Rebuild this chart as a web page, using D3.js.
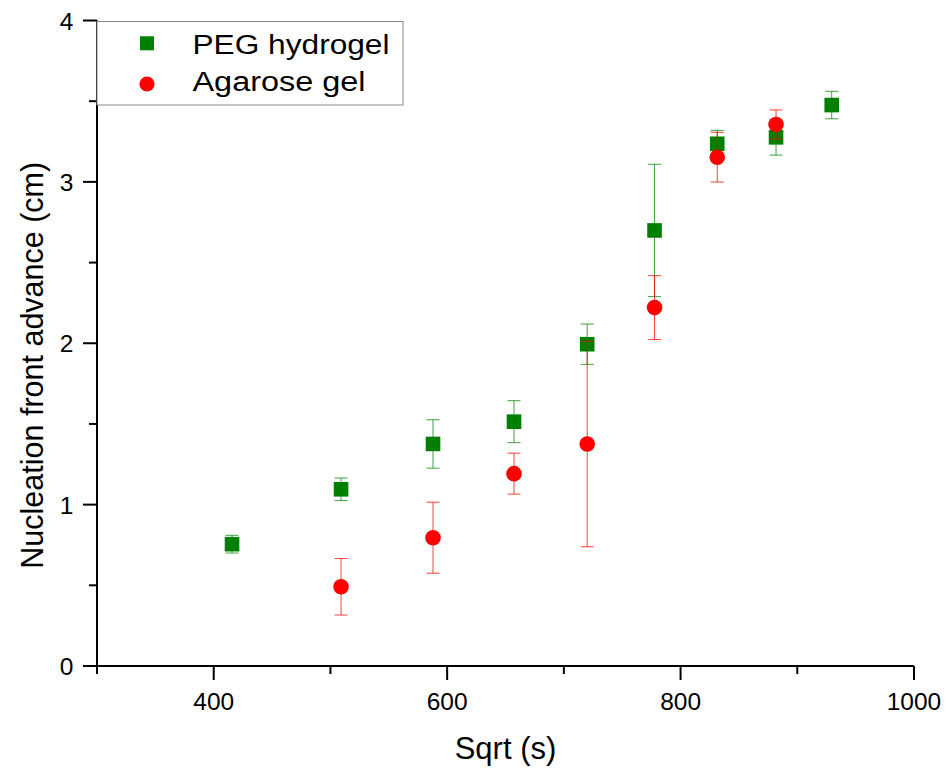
<!DOCTYPE html>
<html>
<head>
<meta charset="utf-8">
<script src="https://cdn.jsdelivr.net/npm/d3@7"></script>
<style>
  html, body { margin: 0; padding: 0; background: #fff; }
  svg { display: block; font-family: "Liberation Sans", Arial, sans-serif; }
</style>
</head>
<body>
<svg id="chart" width="949" height="771"></svg>
<script>
// ---- data ----
const seriesNames = ["PEG hydrogel", "Agarose gel"];
const xPEG   = [415.7, 509.1, 587.9, 657.3, 720.0, 777.7, 831.4, 881.8, 929.5];
const yPEG   = [0.755, 1.095, 1.376, 1.514, 1.994, 2.699, 3.236, 3.276, 3.476];
const errPEG = [0.055, 0.07, 0.15, 0.13, 0.125, 0.41, 0.083, 0.11, 0.085];
const xAga   = [509.1, 587.9, 657.3, 720.0, 777.7, 831.4, 881.8];
const yAga   = [0.491, 0.795, 1.192, 1.376, 2.221, 3.153, 3.356];
const errAga = [0.175, 0.22, 0.127, 0.637, 0.198, 0.154, 0.09];
const xMajorTicks = [400, 600, 800, 1000];
const xMinorTicks = [300, 500, 700, 900];
const yMajorTicks = [0, 1, 2, 3, 4];
const yMinorTicks = [0.5, 1.5, 2.5, 3.5];
const xTitle = "Sqrt (s)";
const yTitle = "Nucleation front advance (cm)";

(function () {
// ---- layout ----
const svg = d3.select("#chart");
const pL = 97, pR = 914, pT = 20.5, pB = 666;
const x = d3.scaleLinear().domain([300, 1000]).range([pL, pR]);
const y = d3.scaleLinear().domain([0, 4]).range([pB, pT]);

const green = "#008000", red = "#ff0000";

// axes
const axisG = svg.append("g").attr("stroke", "#000").attr("stroke-width", 2);
axisG.append("line").attr("x1", pL).attr("x2", pR).attr("y1", pB).attr("y2", pB);
axisG.append("line").attr("x1", pL).attr("x2", pL).attr("y1", pT).attr("y2", pB);
axisG.selectAll(".xmaj").data(xMajorTicks).join("line")
  .attr("x1", d => x(d)).attr("x2", d => x(d)).attr("y1", pB).attr("y2", pB + 14);
axisG.selectAll(".xmin").data(xMinorTicks).join("line")
  .attr("x1", d => x(d)).attr("x2", d => x(d)).attr("y1", pB).attr("y2", pB + 8);
axisG.selectAll(".ymaj").data(yMajorTicks).join("line")
  .attr("y1", d => y(d)).attr("y2", d => y(d)).attr("x1", pL - 14).attr("x2", pL);
axisG.selectAll(".ymin").data(yMinorTicks).join("line")
  .attr("y1", d => y(d)).attr("y2", d => y(d)).attr("x1", pL - 8).attr("x2", pL);

// tick labels
svg.append("g").selectAll("text").data(xMajorTicks).join("text")
  .attr("x", d => x(d)).attr("y", 710).attr("text-anchor", "middle")
  .attr("font-size", 24.5).text(d => d);
svg.append("g").selectAll("text").data(yMajorTicks).join("text")
  .attr("x", 73.5).attr("y", d => y(d) + 9).attr("text-anchor", "end")
  .attr("font-size", 24.5).text(d => d);

// titles
svg.append("text").attr("x", (pL + pR) / 2).attr("y", 759)
  .attr("text-anchor", "middle").attr("font-size", 31).text(xTitle);
svg.append("text").attr("transform", "translate(43," + ((pT + pB) / 2 + 22) + ") rotate(-90)")
  .attr("text-anchor", "middle").attr("font-size", 30.5).text(yTitle);

// error bars + markers
function errorBars(xs, ys, es, color) {
  const g = svg.append("g").attr("stroke", color).attr("stroke-width", 1).attr("stroke-opacity", 0.75);
  const idx = d3.range(xs.length);
  g.selectAll(".v").data(idx).join("line")
    .attr("x1", i => x(xs[i])).attr("x2", i => x(xs[i]))
    .attr("y1", i => y(ys[i] - es[i])).attr("y2", i => y(ys[i] + es[i]));
  g.selectAll(".t").data(idx).join("line")
    .attr("x1", i => x(xs[i]) - 6.5).attr("x2", i => x(xs[i]) + 6.5)
    .attr("y1", i => y(ys[i] + es[i])).attr("y2", i => y(ys[i] + es[i]));
  g.selectAll(".b").data(idx).join("line")
    .attr("x1", i => x(xs[i]) - 6.5).attr("x2", i => x(xs[i]) + 6.5)
    .attr("y1", i => y(ys[i] - es[i])).attr("y2", i => y(ys[i] - es[i]));
}

errorBars(xPEG, yPEG, errPEG, green);
svg.append("g").selectAll("rect").data(d3.range(xPEG.length)).join("rect")
  .attr("x", i => x(xPEG[i]) - 7.3).attr("y", i => y(yPEG[i]) - 7.3)
  .attr("width", 14.6).attr("height", 14.6).attr("fill", green);

errorBars(xAga, yAga, errAga, red);
svg.append("g").selectAll("circle").data(d3.range(xAga.length)).join("circle")
  .attr("cx", i => x(xAga[i])).attr("cy", i => y(yAga[i])).attr("r", 7.8).attr("fill", red);

// legend
const lg = svg.append("g");
lg.append("rect").attr("x", 97).attr("y", 21.5).attr("width", 306).attr("height", 83.5)
  .attr("fill", "#fff").attr("stroke", "#888").attr("stroke-width", 1);
lg.append("rect").attr("x", 147 - 7).attr("y", 43.3 - 7).attr("width", 14).attr("height", 14).attr("fill", green);
lg.append("circle").attr("cx", 147).attr("cy", 84).attr("r", 7.6).attr("fill", red);
lg.append("text").attr("x", 192.5).attr("y", 54).attr("font-size", 27)
  .attr("textLength", 197).attr("lengthAdjust", "spacingAndGlyphs").text(seriesNames[0]);
lg.append("text").attr("x", 192.5).attr("y", 91).attr("font-size", 27)
  .attr("textLength", 173).attr("lengthAdjust", "spacingAndGlyphs").text(seriesNames[1]);
})();
</script>
</body>
</html>
